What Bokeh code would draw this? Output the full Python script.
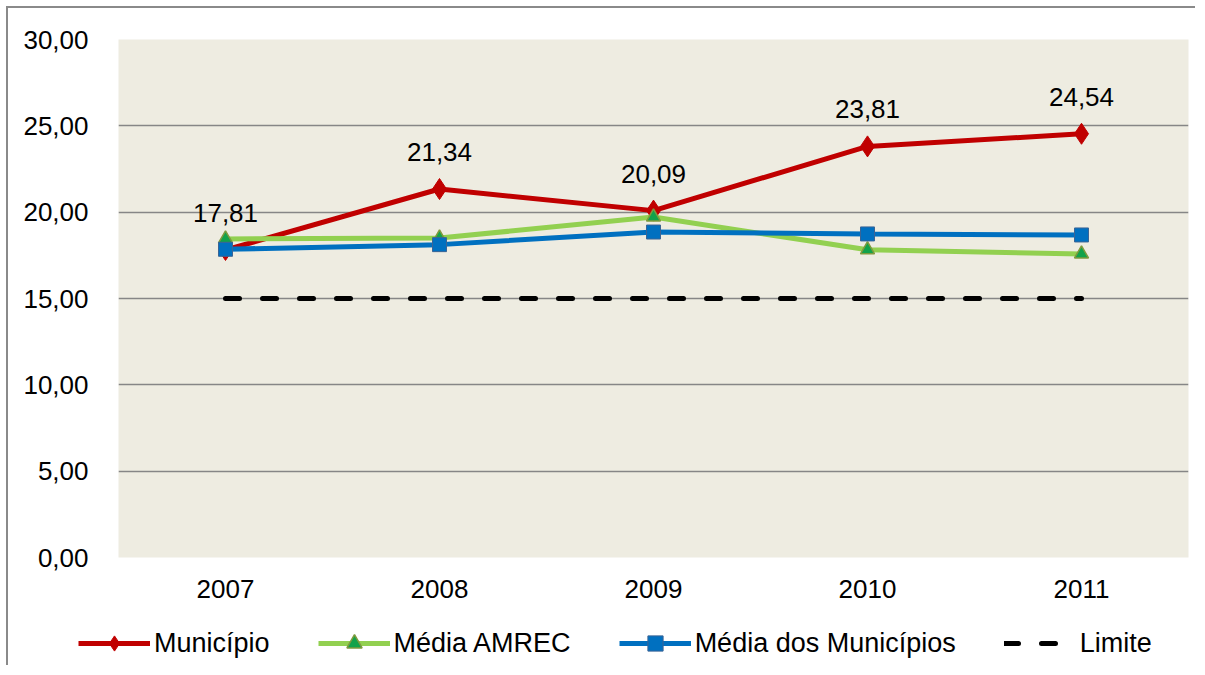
import numpy as np
from bokeh.plotting import figure
from bokeh.models import FactorRange, Range1d, FixedTicker, Legend, LegendItem, ColumnDataSource
from bokeh.core.properties import value
from bokeh.embed import file_html
from bokeh.resources import INLINE

years = ["2007", "2008", "2009", "2010", "2011"]
municipio = [17.81, 21.34, 20.09, 23.81, 24.54]
media_amrec = [18.45, 18.50, 19.72, 17.82, 17.58]
media_municipios = [17.85, 18.12, 18.85, 18.74, 18.68]
limite = [15.0, 15.0, 15.0, 15.0, 15.0]
series_names = ["Município", "Média AMREC", "Média dos Municípios", "Limite"]
y_ticks = [0, 5, 10, 15, 20, 25, 30]
y_tick_labels = ["0,00", "5,00", "10,00", "15,00", "20,00", "25,00", "30,00"]

FONT = "Liberation Sans"
RED, GREEN, BLUE = "#C00000", "#92D050", "#0070C0"

p = figure(x_range=FactorRange(*years, range_padding=0), y_range=Range1d(0, 30),
           width=1189, height=600, output_backend="svg", toolbar_location=None,
           min_border_left=110, min_border_right=9, min_border_top=31, min_border_bottom=51)
p.styles = {"margin-left": "6px", "margin-top": "6px",
            "border-left": "2px solid #8a8a8a", "border-top": "2px solid #8a8a8a"}
p.background_fill_color = "#EEECE1"
p.border_fill_color = "white"
p.outline_line_color = None

p.xgrid.grid_line_color = None
p.ygrid.grid_line_color = "#868686"
p.ygrid.grid_line_width = 1.5
p.yaxis.ticker = FixedTicker(ticks=y_ticks)
p.yaxis.major_label_overrides = {t: l for t, l in zip(y_ticks, y_tick_labels)}
for ax in (p.xaxis, p.yaxis):
    ax.axis_line_color = None
    ax.major_tick_line_color = None
    ax.minor_tick_line_color = None
    ax.major_label_text_font = FONT
    ax.major_label_text_font_size = "26px"
    ax.major_label_text_color = "black"
p.yaxis.major_label_standoff = 24
p.xaxis.major_label_standoff = 16

src = ColumnDataSource(dict(x=years, mun=municipio, amrec=media_amrec, medm=media_municipios,
                            lim=limite, lab=[f"{v:.2f}".replace(".", ",") for v in municipio]))

line_kw = [dict(line_color=RED, line_width=5), dict(line_color=GREEN, line_width=5),
           dict(line_color=BLUE, line_width=5),
           dict(line_color="black", line_width=5, line_dash="14 23", line_cap="round")]
mark_kw = [dict(marker="diamond", size=21, fill_color=RED, line_color=RED),
           dict(marker="triangle", size=14, fill_color="#12A24A", line_color="#7F9A3D", line_width=1.5),
           dict(marker="square", size=14, fill_color=BLUE, line_color="#3A6495", line_width=1)]

cols = ["mun", "amrec", "medm", "lim"]
for i, c in enumerate(cols):
    p.line("x", c, source=src, **line_kw[i])
    if i < 3:
        p.scatter("x", c, source=src, **mark_kw[i])

p.text("x", "mun", text="lab", source=src, text_font=value(FONT), text_font_size="26px",
       text_align="center", text_baseline="middle", y_offset=-37, text_color="black")

# legend strip below the chart (its own root, so it is not frame-aligned)
pl = figure(x_range=FactorRange(*years), y_range=Range1d(100, 101), width=1189, height=59,
            output_backend="svg", toolbar_location=None,
            min_border_left=0, min_border_right=0, min_border_top=0, min_border_bottom=0)
pl.styles = {"margin-left": "6px", "border-left": "2px solid #8a8a8a"}
pl.axis.visible = False
pl.grid.visible = False
pl.outline_line_color = None
pl.background_fill_color = "white"
pl.border_fill_color = "white"
items = []
for i, (name, c) in enumerate(zip(series_names, cols)):
    rs = [pl.line("x", c, source=src, **line_kw[i])]
    if i < 3:
        rs.append(pl.scatter("x", c, source=src, **mark_kw[i]))
    items.append(LegendItem(label=name, renderers=rs))
legend = Legend(items=items, orientation="horizontal", location=(70, 3), glyph_width=72,
                glyph_height=38, label_standoff=4, spacing=48, padding=0, margin=0,
                border_line_color=None, background_fill_alpha=0,
                label_text_font=FONT, label_text_font_size="27px", label_text_color="black")
pl.add_layout(legend, "center")

open("out.html", "w").write(file_html([p, pl], INLINE))
